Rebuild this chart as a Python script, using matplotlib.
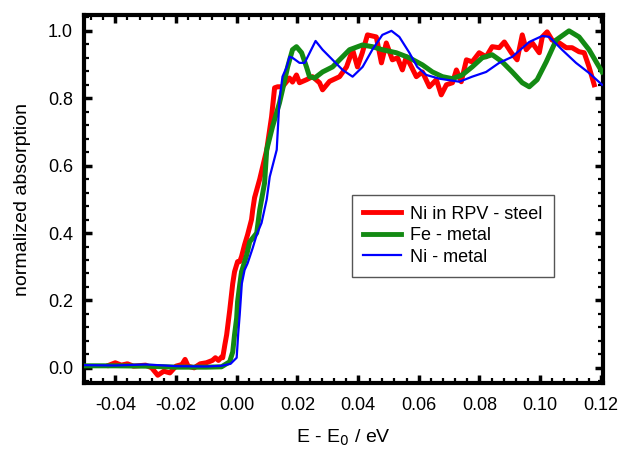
import matplotlib
matplotlib.use("Agg")
import matplotlib.pyplot as plt
from matplotlib.ticker import MultipleLocator, FormatStrFormatter

plt.rcParams['font.family'] = ['Liberation Sans', 'DejaVu Sans']

# Ni in RPV - steel (red)
red_x = [-0.042, -0.040, -0.038, -0.036, -0.034, -0.030, -0.028, -0.026, -0.024, -0.022,
         -0.020, -0.018, -0.017, -0.016, -0.014, -0.012, -0.010, -0.008, -0.007, -0.006,
         -0.005, -0.0046, -0.0039, -0.0033, -0.0023, -0.0013, -0.0007, 0.0003, 0.001, 0.0016,
         0.0026, 0.0036, 0.0049, 0.0053, 0.0059, 0.0076, 0.0099, 0.0115, 0.0125, 0.0135,
         0.0151, 0.0174, 0.0184, 0.0197, 0.0207, 0.023, 0.025, 0.0273, 0.0283, 0.0306,
         0.0339, 0.0362, 0.0382, 0.0398, 0.0414, 0.0431, 0.046, 0.0477, 0.0493, 0.0513,
         0.053, 0.0546, 0.0559, 0.0576, 0.0592, 0.0612, 0.0635, 0.0658, 0.0674, 0.0691,
         0.0711, 0.0724, 0.074, 0.0757, 0.0776, 0.0799, 0.0822, 0.0842, 0.0865, 0.0882,
         0.0905, 0.0924, 0.0941, 0.0954, 0.0974, 0.0997, 0.1007, 0.1023, 0.1039, 0.1063,
         0.1086, 0.1105, 0.1128, 0.1145, 0.1161, 0.1178]
red_y = [0.008, 0.015, 0.008, 0.012, 0.005, 0.008, 0.0, -0.022, -0.01, -0.015,
         0.005, 0.01, 0.025, 0.005, 0.0, 0.012, 0.015, 0.022, 0.03, 0.022,
         0.032, 0.03, 0.068, 0.098, 0.17, 0.25, 0.285, 0.315, 0.315, 0.33,
         0.365, 0.395, 0.44, 0.469, 0.505, 0.56, 0.647, 0.745, 0.831, 0.834,
         0.834, 0.86, 0.848, 0.869, 0.846, 0.855, 0.864, 0.846, 0.825, 0.85,
         0.864, 0.893, 0.944, 0.893, 0.935, 0.988, 0.982, 0.905, 0.964, 0.914,
         0.92, 0.884, 0.923, 0.893, 0.864, 0.878, 0.834, 0.855, 0.81, 0.84,
         0.846, 0.884, 0.849, 0.914, 0.908, 0.935, 0.923, 0.953, 0.95, 0.967,
         0.935, 0.914, 0.988, 0.944, 0.964, 0.935, 0.982, 0.997, 0.973, 0.964,
         0.95, 0.95, 0.938, 0.935, 0.893, 0.84]

# Fe - metal (green)
green_x = [-0.05, -0.04, -0.03, -0.02, -0.01, -0.005, -0.0023, -0.0013, -0.0007, 0.0,
           0.0003, 0.001, 0.0016, 0.0033, 0.0043, 0.0066, 0.0076, 0.0092, 0.0099, 0.0118,
           0.0141, 0.0151, 0.0168, 0.0184, 0.0197, 0.0214, 0.023, 0.024, 0.0257, 0.0283,
           0.0316, 0.0339, 0.0372, 0.0414, 0.0447, 0.048, 0.0526, 0.0569, 0.0612, 0.0645,
           0.0678, 0.0711, 0.0743, 0.0776, 0.0809, 0.0842, 0.0875, 0.0908, 0.0941, 0.0964,
           0.099, 0.102, 0.1053, 0.1095, 0.1128, 0.1161, 0.1204]
green_y = [0.006, 0.006, 0.005, 0.002, 0.002, 0.003, 0.018, 0.047, 0.098, 0.148,
           0.196, 0.246, 0.285, 0.335, 0.374, 0.40, 0.469, 0.549, 0.647, 0.715,
           0.786, 0.825, 0.893, 0.944, 0.953, 0.935, 0.893, 0.864, 0.86, 0.878,
           0.893, 0.914, 0.944, 0.958, 0.953, 0.944, 0.935, 0.92, 0.899, 0.878,
           0.864, 0.858, 0.869, 0.893, 0.92, 0.929, 0.908, 0.878, 0.846, 0.834,
           0.855, 0.908, 0.973, 1.0, 0.982, 0.944, 0.878]

# Ni - metal (blue)
blue_x = [-0.05, -0.04, -0.03, -0.02, -0.01, -0.005, -0.002, 0.0, 0.0005, 0.001,
          0.0017, 0.0026, 0.0036, 0.0053, 0.0066, 0.0082, 0.0099, 0.0109, 0.0132, 0.0135,
          0.0141, 0.0151, 0.0165, 0.0174, 0.0184, 0.0207, 0.0224, 0.0234, 0.026, 0.0283,
          0.0316, 0.0349, 0.0382, 0.0415, 0.0447, 0.048, 0.051, 0.0536, 0.0569, 0.0595,
          0.0625, 0.0668, 0.0734, 0.0776, 0.0822, 0.0865, 0.0908, 0.0964, 0.1007, 0.103,
          0.1072, 0.1118, 0.1161, 0.1204]
blue_y = [0.008, 0.007, 0.010, 0.005, 0.004, 0.006, 0.012, 0.03, 0.10, 0.157,
          0.25, 0.29, 0.31, 0.356, 0.395, 0.43, 0.50, 0.567, 0.647, 0.697,
          0.795, 0.864, 0.893, 0.923, 0.92, 0.905, 0.905, 0.923, 0.97, 0.944,
          0.914, 0.884, 0.864, 0.893, 0.944, 0.988, 1.0, 0.982, 0.935, 0.893,
          0.869, 0.858, 0.849, 0.864, 0.878, 0.905, 0.923, 0.967, 0.985, 0.982,
          0.944, 0.905, 0.875, 0.84]

labels = ["Ni in RPV - steel", "Fe - metal", "Ni - metal"]

fig = plt.figure(figsize=(6.22, 4.51), dpi=100)
ax = fig.add_axes([84/622, 1-383/451, (603-84)/622, (383-15)/451])

ax.plot(red_x, red_y, color='#ff0000', lw=3.6, label=labels[0], zorder=2)
ax.plot(green_x, green_y, color='#138a13', lw=3.6, label=labels[1], zorder=3)
ax.plot(blue_x, blue_y, color='#0000ff', lw=1.6, label=labels[2], zorder=4)

ax.set_xlim(-0.0503, 0.1207)
ax.set_ylim(-0.045, 1.047)

ax.xaxis.set_major_locator(MultipleLocator(0.02))
ax.xaxis.set_minor_locator(MultipleLocator(0.004))
ax.yaxis.set_major_locator(MultipleLocator(0.2))
ax.yaxis.set_minor_locator(MultipleLocator(0.04))
ax.xaxis.set_major_formatter(FormatStrFormatter('%.2f'))
ax.yaxis.set_major_formatter(FormatStrFormatter('%.1f'))

for s in ax.spines.values():
    s.set_linewidth(3)
ax.tick_params(which='both', direction='in', top=True, right=True, labelsize=13)
ax.tick_params(which='major', length=6, width=2.5)
ax.tick_params(which='minor', length=3.5, width=1.6)
ax.tick_params(axis='x', which='major', pad=10)
ax.tick_params(axis='y', which='major', pad=8)

ax.set_xlabel("E - E$_0$ / eV", fontsize=14, labelpad=10)
ax.set_ylabel("normalized absorption", fontsize=14, labelpad=12)

leg = ax.legend(loc='upper left', bbox_to_anchor=(0.516, 0.511), fontsize=13,
                frameon=True, fancybox=False, edgecolor='#555555', framealpha=1,
                handlelength=2.1, handletextpad=0.55, labelspacing=0.25,
                borderpad=0.6, borderaxespad=0)
leg.get_frame().set_linewidth(1.0)
for h, w in zip(leg.get_lines(), [3.5, 3.5, 1.6]):
    h.set_linewidth(w)

fig.savefig("out.png", dpi=100)
